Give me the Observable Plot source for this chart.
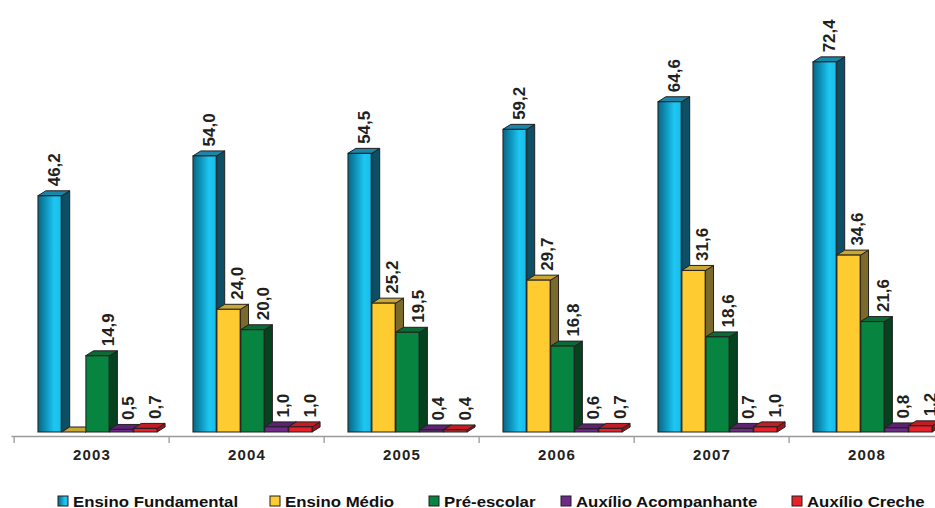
<!DOCTYPE html>
<html>
<head>
<meta charset="utf-8">
<script src="https://cdn.jsdelivr.net/npm/d3@7"></script>
<script src="https://cdn.jsdelivr.net/npm/@observablehq/plot@0.6"></script>
<style>
  html, body { margin: 0; padding: 0; background: #fff; }
  body { width: 935px; height: 508px; overflow: hidden; font-family: "Liberation Sans", Arial, sans-serif; }
  #chart svg { max-width: none !important; display: block; }
  #chart [aria-label="x-axis tick label"] text { letter-spacing: 1.2px; }
  #legend { display: block; }
</style>
</head>
<body>
<div id="chart"></div>
<svg id="legend" width="935" height="26"></svg>
<script>
// ---- data ----
const years = ["2003", "2004", "2005", "2006", "2007", "2008"];
const seriesNames = ["Ensino Fundamental", "Ensino Médio", "Pré-escolar", "Auxílio Acompanhante", "Auxílio Creche"];
const ensinoFundamental = [46.2, 54.0, 54.5, 59.2, 64.6, 72.4];
const ensinoMedio = [0, 24.0, 25.2, 29.7, 31.6, 34.6];
const preEscolar = [14.9, 20.0, 19.5, 16.8, 18.6, 21.6];
const auxilioAcompanhante = [0.5, 1.0, 0.4, 0.6, 0.7, 0.8];
const auxilioCreche = [0.7, 1.0, 0.4, 0.7, 1.0, 1.2];

// ---- styles ----
const frontColors = ["url(#gradFund)", "#fecb30", "#088441", "#6e2b88", "#e8222b"];
const sideColors = ["#0d4f64", "#7a6a2c", "#05431f", "#4a1a5e", "#9a151b"];
const topColors = ["#1a86a9", "#c9a735", "#0b6a35", "#5c2373", "#c11d25"];
const labelDx = [4, 9, 11, 7, 10];
const legendX = [58, 270, 429, 561, 792];
const DEPTH_X = 8, DEPTH_Y = 5;
const outline = "#231f20";

const valuesBySeries = [ensinoFundamental, ensinoMedio, preEscolar, auxilioAcompanhante, auxilioCreche];
const rows = [];
seriesNames.forEach((s, i) => years.forEach((y, j) => rows.push({year: y, series: s, si: i, value: valuesBySeries[i][j]})));

const fmt = v => d3.format(".1f")(v).replace(".", ",");

const W = 946, MARGIN_LEFT = 11.5;
const bw = (W - MARGIN_LEFT) / years.length;
const u = bw / 6.5; // one bar width within a year band

function defs() {
  const d = d3.create("svg:defs");
  const g = d.append("linearGradient").attr("id", "gradFund").attr("x1", "0").attr("x2", "1").attr("y1", "0").attr("y2", "0");
  g.append("stop").attr("offset", "0%").attr("stop-color", "#0a6583");
  g.append("stop").attr("offset", "35%").attr("stop-color", "#0e95bd");
  g.append("stop").attr("offset", "70%").attr("stop-color", "#1ec7f3");
  g.append("stop").attr("offset", "100%").attr("stop-color", "#19bce8");
  return d.node();
}

function depthFaces(index, scales) {
  const x = scales.x, y = scales.y;
  const band = x.bandwidth();
  const w = band / 6.5;
  const g = d3.create("svg:g").attr("stroke", outline).attr("stroke-width", 1).attr("stroke-linejoin", "round");
  years.forEach((yr, j) => {
    seriesNames.forEach((s, i) => {
      const v = valuesBySeries[i][j];
      const x1 = x(yr) + (i + 1) * w, x2 = x1 + w, y0 = y(0), y1 = y(v);
      g.append("path")
        .attr("d", `M${x2},${y0}L${x2 + DEPTH_X},${y0 - DEPTH_Y}L${x2 + DEPTH_X},${y1 - DEPTH_Y}L${x2},${y1}Z`)
        .attr("fill", sideColors[i]);
      g.append("path")
        .attr("d", `M${x1},${y1}L${x1 + DEPTH_X},${y1 - DEPTH_Y}L${x2 + DEPTH_X},${y1 - DEPTH_Y}L${x2},${y1}Z`)
        .attr("fill", topColors[i]);
    });
  });
  return g.node();
}

const marks = [
  defs,
  Plot.ruleY([0], {dy: 4, stroke: "#9a9a9a", strokeWidth: 1.3}),
  Plot.axisX({tickSize: 7, dx: -bw / 2, dy: 4, tickFormat: () => "", label: null, stroke: "#9a9a9a", strokeWidth: 1.3}),
  Plot.axisX({tickSize: 0, tickPadding: 17, label: null, fontSize: 15, fontWeight: "bold", fill: "#222"}),
  depthFaces
];
seriesNames.forEach((s, i) => {
  const data = rows.filter(r => r.si === i);
  marks.push(Plot.barY(data, {
    x: "year", y: "value",
    insetLeft: (i + 1) * u, insetRight: (4.5 - i) * u,
    fill: frontColors[i], stroke: outline, strokeWidth: 1
  }));
});
seriesNames.forEach((s, i) => {
  const data = rows.filter(r => r.si === i && r.value > 0);
  marks.push(Plot.text(data, {
    x: "year", y: "value", text: d => fmt(d.value),
    rotate: -90, textAnchor: "start",
    dx: (i - 1.75) * u + labelDx[i], dy: -10,
    fontSize: 17, fontWeight: "bold", fill: outline,
    fontFamily: "Liberation Sans, Arial, sans-serif"
  }));
});

const chart = Plot.plot({
  width: W, height: 482,
  marginLeft: MARGIN_LEFT, marginRight: 0, marginTop: 0, marginBottom: 50,
  style: {fontFamily: "Liberation Sans, Arial, sans-serif", color: "#222", background: "#fff"},
  x: {domain: years, padding: 0, axis: null},
  y: {domain: [0, 84.5], axis: null},
  marks
});
document.getElementById("chart").appendChild(chart);

// ---- legend ----
const leg = d3.select("#legend");
seriesNames.forEach((s, i) => {
  leg.append("rect").attr("x", legendX[i]).attr("y", 14).attr("width", 10).attr("height", 10)
    .attr("fill", frontColors[i]).attr("stroke", outline).attr("stroke-width", 1);
  leg.append("text").attr("transform", `translate(${legendX[i] + 15},24.5) scale(1.2,1)`)
    .attr("font-size", 14).attr("font-weight", "bold").attr("fill", "#111")
    .attr("font-family", "Liberation Sans, Arial, sans-serif").text(s);
});
</script>
</body>
</html>
